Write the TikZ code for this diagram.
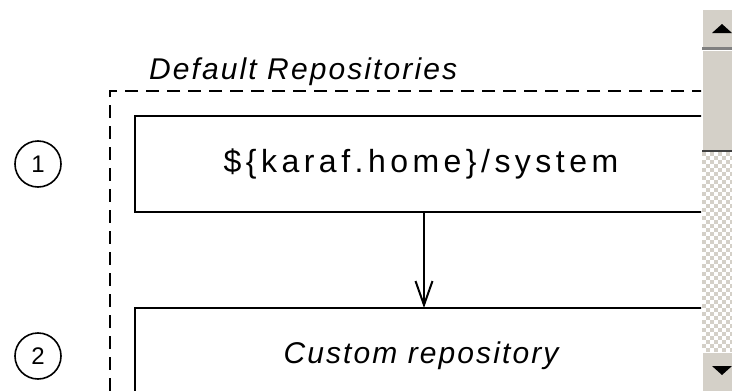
\documentclass[tikz,border=0pt]{standalone}
\usepackage{fontspec}
\setmainfont{Liberation Sans}
\newfontfamily\widefont[LetterSpace=14]{Liberation Sans}
\newfontfamily\labelfont[LetterSpace=7]{Liberation Sans}
\usetikzlibrary{arrows.meta, positioning, fit}
\definecolor{btnface}{HTML}{D4D0C8}
\definecolor{btnshadow}{HTML}{808080}

\begin{document}
\begin{tikzpicture}[x=1pt, y=-1pt,
  repo/.style={draw, line width=2pt, outer sep=0pt, inner sep=0pt,
    minimum width=572pt, minimum height=96pt},
  num/.style={draw, circle, line width=1.6pt, outer sep=0pt, inner sep=0pt,
    minimum size=46pt, font=\fontsize{24}{28}\selectfont}]
\useasboundingbox (0,0) rectangle (732,391);
\begin{scope}
\clip (0,0) rectangle (701,391);
\node[repo, font=\widefont\fontsize{32}{38}\selectfont] (sys) at (421,164) {\$\{karaf.home\}/system};
\node[repo, below=96pt of sys, font=\labelfont\fontsize{30}{36}\selectfont\itshape] (custom) {Custom repository};
\node[num, left=74pt of sys] (one) {1};
\node[num, left=74pt of custom] (two) {2};
\node[draw, line width=2pt, dash pattern=on 13pt off 8pt, inner sep=25pt, fit=(sys)(custom)] (frame) {};
\node[anchor=base west, inner sep=0pt, font=\labelfont\fontsize{30}{36}\selectfont\itshape]
  (title) at ([xshift=40pt, yshift=11pt]frame.north west) {Default Repositories};
\draw[-{Straight Barb[length=24pt, width=17pt]}, line width=2pt] ([xshift=3pt]sys.south) -- ([xshift=3pt]custom.north);
\end{scope}
% scrollbar
\fill[btnface] (702,9) rectangle (732,47);
\draw[white] (702.5,47) -- (702.5,9.5) -- (732,9.5);
\fill (712,33) -- (732,33) -- (722,24) -- cycle;
\fill[btnshadow] (702,47) rectangle (732,49.5);
\fill[btnface] (702,49.5) rectangle (732,150);
\draw[white] (702.5,150) -- (702.5,50) -- (732,50);
\fill[black!75] (702,150) rectangle (732,152);
\foreach \i in {0,...,49}
  \foreach \j in {0,...,7} {
    \pgfmathtruncatemacro\k{mod(\i+\j,2)}
    \ifnum\k=0 \fill[btnface] (702+4*\j,152+4*\i) rectangle ++(4,4); \fi
  }
\fill[btnface] (702,352) rectangle (732,391);
\draw[white] (702.5,391) -- (702.5,352.5) -- (732,352.5);
\fill (712,366) -- (732,366) -- (722,375) -- cycle;
\end{tikzpicture}
\end{document}
